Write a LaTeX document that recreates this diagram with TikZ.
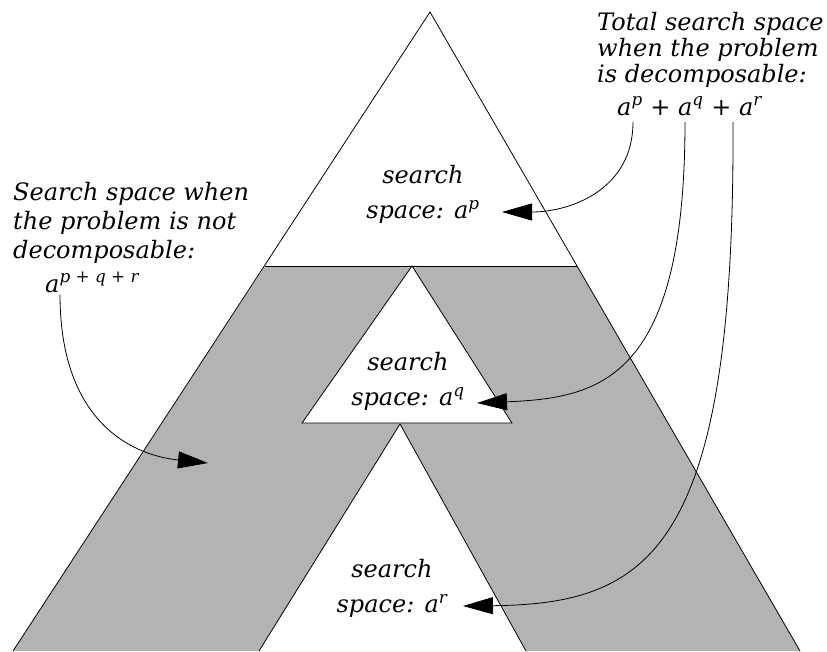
\documentclass[tikz,border=0pt]{standalone}
\usepackage{fontspec}
\setmainfont{DejaVu Serif}
\usetikzlibrary{arrows.meta}

\definecolor{bandgray}{RGB}{179,179,179}

\tikzset{
  outline/.style={line width=0.8pt},
  hole/.style={fill=white,draw=black,line width=0.8pt},
  note/.style={font=\fontsize{24}{26}\selectfont\itshape,align=left,inner sep=0pt},
  spacelbl/.style={font=\fontsize{24}{35}\selectfont\itshape,align=center,inner sep=0pt},
  pointer/.style={-{Triangle[length=30pt,width=17pt]},line width=0.8pt}
}

\begin{document}
\begin{tikzpicture}[x=1pt,y=-1pt]
    \useasboundingbox (0,0) rectangle (827,651);
    \fill[white] (0,0) rectangle (827,651);

    % shaded band below the top triangle
    \fill[bandgray] (265,266) -- (577,266) -- (800,651) -- (13,651) -- cycle;
    \fill[white] (400,424) -- (526,651) -- (259,651) -- cycle;
    \draw[outline] (13,651) -- (430,12) -- (800,651);
    \draw[outline] (265,266) -- (577,266);
    \draw[outline] (259,651) -- (400,424) -- (526,651);
    \filldraw[hole] (412,266) -- (512,423) -- (302,423) -- cycle;

    % labels inside the triangles
    \node[spacelbl] (labp) at (423,194) {search\\space: a\textsuperscript{p}};
    \node[spacelbl] (labq) at (408,381) {search\\space: a\textsuperscript{q}};
    \node[spacelbl] (labr) at (392,588) {search\\space: a\textsuperscript{r}};

    % notes (base = last line)
    \node[note,anchor=base west] (total) at (597,82) {Total search space\\when the problem\\is decomposable:};
    \node[note,anchor=base west] (sum) at (617,115) {a\textsuperscript{p} + a\textsuperscript{q} + a\textsuperscript{r}};
    \node[note,anchor=base west,font=\fontsize{24}{29}\selectfont\itshape] (notdec) at (13,258) {Search space when\\the problem is not\\decomposable:};
    \node[note,anchor=base west] (prod) at (45,292) {a\textsuperscript{p + q + r}};

    \coordinate (fromp) at (633,122);
    \coordinate (fromq) at (685,122);
    \coordinate (fromr) at (733,122);
    \coordinate (tipp) at (502,212);
    \coordinate (tipq) at (477,403);
    \coordinate (tipr) at (463,606);
    \coordinate (tipall) at (208,463);

    \draw[pointer] (fromp) .. controls (633,190) and (570,212) .. (tipp);
    \draw[pointer] (fromq) .. controls (685,380) and (600,398) .. (tipq);
    \draw[pointer] (fromr) .. controls (735,550) and (650,604) .. (tipr);
    \draw[pointer] ([xshift=15pt,yshift=-2pt]prod.south west) .. controls (60,420) and (130,455) .. (tipall);
\end{tikzpicture}
\end{document}
